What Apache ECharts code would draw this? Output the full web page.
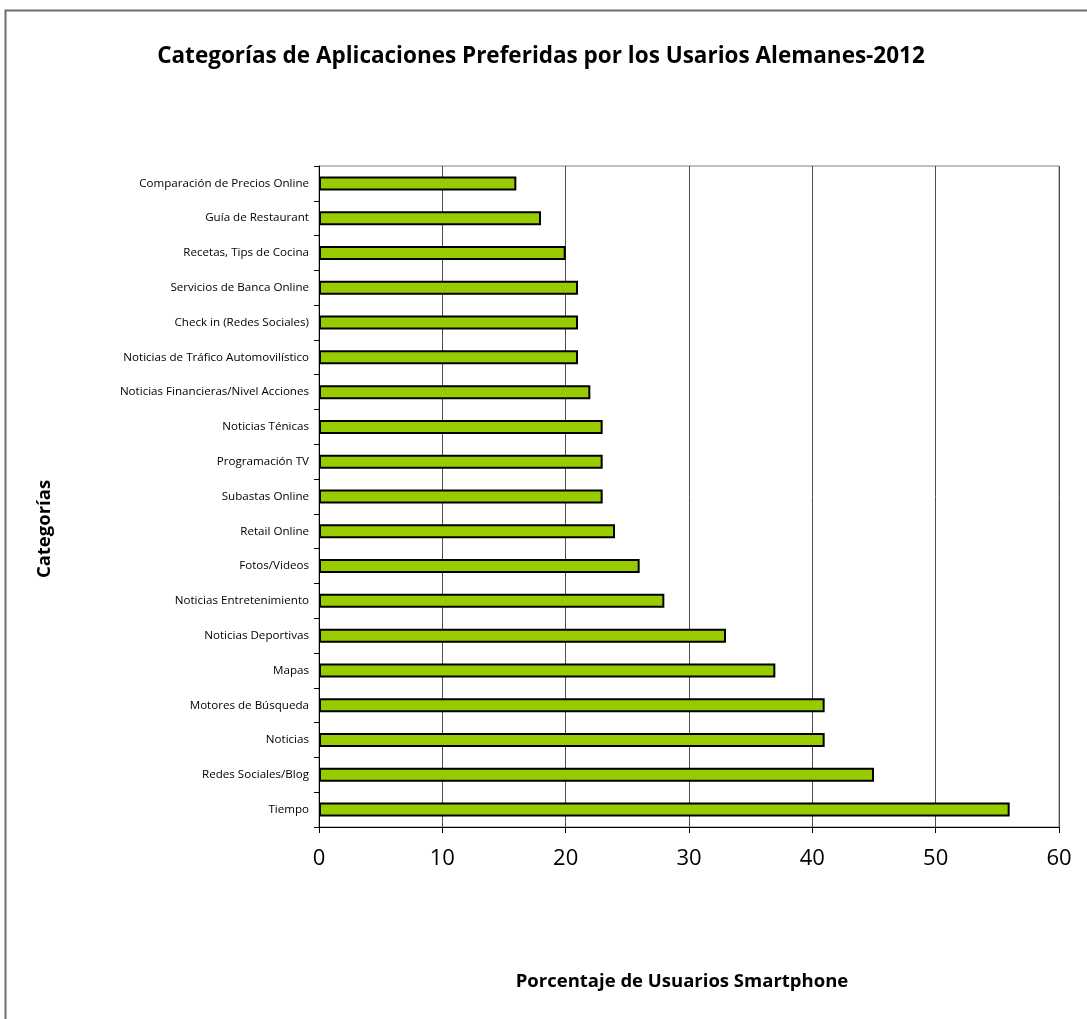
<!DOCTYPE html>
<html>
<head>
<meta charset="utf-8">
<script src="https://cdn.jsdelivr.net/npm/echarts@6/dist/echarts.min.js"></script>
<style>
html,body{margin:0;padding:0;background:#fff;}
#c{width:1087px;height:1019px;}
</style>
</head>
<body>
<div id="c"></div>
<script>
const categories = [
  "Tiempo",
  "Redes Sociales/Blog",
  "Noticias",
  "Motores de Búsqueda",
  "Mapas",
  "Noticias Deportivas",
  "Noticias Entretenimiento",
  "Fotos/Videos",
  "Retail Online",
  "Subastas Online",
  "Programación TV",
  "Noticias Ténicas",
  "Noticias Financieras/Nivel Acciones",
  "Noticias de Tráfico Automovilístico",
  "Check in (Redes Sociales)",
  "Servicios de Banca Online",
  "Recetas, Tips de Cocina",
  "Guía de Restaurant",
  "Comparación de Precios Online"
];
const values = [56, 45, 41, 41, 37, 33, 28, 26, 24, 23, 23, 23, 22, 21, 21, 21, 20, 18, 16];
const xTicks = [0, 10, 20, 30, 40, 50, 60];

const FONT = "'Open Sans', 'Noto Sans', sans-serif";
const chart = echarts.init(document.getElementById('c'), null, {renderer: 'canvas'});
chart.setOption({
  backgroundColor: '#ffffff',
  animation: false,
  title: {
    text: 'Categorías de Aplicaciones Preferidas por los Usarios Alemanes-2012',
    left: 536, top: 40, textAlign: 'center',
    textStyle: {fontFamily: FONT, fontSize: 22.5, fontWeight: 'bold', color: '#000'}
  },
  graphic: [
    {type: 'rect', shape: {x: 5.5, y: 10.5, width: 1300, height: 1300},
     style: {fill: 'none', stroke: '#6e6e6e', lineWidth: 2}, silent: true, z: 100},
    {type: 'text', x: 682, y: 982, style: {text: 'Porcentaje de Usuarios Smartphone', fontFamily: FONT, fontSize: 18.5, fontWeight: 'bold', fill: '#000', textAlign: 'center', textVerticalAlign: 'middle'}},
    {type: 'text', x: 45, y: 529, rotation: Math.PI / 2, style: {text: 'Categorías', fontFamily: FONT, fontSize: 18.5, fontWeight: 'bold', fill: '#000', textAlign: 'center', textVerticalAlign: 'middle'}}
  ],
  grid: {left: 319, right: 28, top: 166, bottom: 192, show: true, borderColor: '#808080', borderWidth: 1},
  xAxis: {
    type: 'value', min: 0, max: 60, interval: 10,
    axisLine: {show: true, lineStyle: {color: '#000', width: 1}},
    axisTick: {show: true, length: 6, lineStyle: {color: '#000'}},
    axisLabel: {fontFamily: FONT, fontSize: 22, color: '#000', margin: 21,
      formatter: v => xTicks.indexOf(v) >= 0 ? String(v) : ''},
    splitLine: {show: true, lineStyle: {color: '#4d4d4d', width: 1}}
  },
  yAxis: {
    type: 'category', data: categories,
    axisLine: {show: true, lineStyle: {color: '#000', width: 1}},
    axisTick: {show: true, length: 5, lineStyle: {color: '#000'}},
    axisLabel: {fontFamily: FONT, fontSize: 11.6, color: '#000', margin: 10},
    splitLine: {show: false}
  },
  series: [{
    type: 'bar', data: values, barWidth: 14,
    itemStyle: {color: '#99cc00', borderColor: '#000', borderWidth: 2}
  }]
});
</script>
</body>
</html>
